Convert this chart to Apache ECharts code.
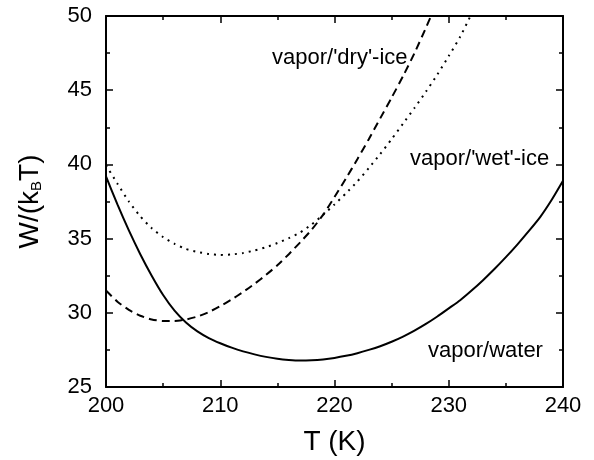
<!DOCTYPE html>
<html>
<head>
<meta charset="utf-8">
<script src="https://cdn.jsdelivr.net/npm/echarts@6/dist/echarts.min.js"></script>
<style>
html,body{margin:0;padding:0;background:#fff;}
#chart{width:594px;height:460px;}
</style>
</head>
<body>
<div id="chart"></div>
<script>
// Data
var waterT = [200, 201, 202, 203, 204, 205, 206, 207, 208, 209, 210, 211, 212, 213, 214, 215, 216, 217, 218, 219, 220, 221, 222, 223, 224, 225, 226, 227, 228, 229, 230, 231, 232, 233, 234, 235, 236, 237, 238, 239, 240];
var waterW = [39.2, 37.3, 35.55, 33.95, 32.5, 31.2, 30.15, 29.35, 28.75, 28.3, 27.95, 27.65, 27.4, 27.2, 27.03, 26.9, 26.82, 26.78, 26.8, 26.86, 26.96, 27.1, 27.28, 27.5, 27.75, 28.05, 28.4, 28.8, 29.25, 29.75, 30.3, 30.85, 31.5, 32.2, 32.95, 33.75, 34.6, 35.5, 36.45, 37.6, 38.9];

var dryT = [200, 201, 202, 203, 204, 205, 206, 207, 208, 209, 210, 211, 212, 213, 214, 215, 216, 217, 218, 219, 220, 221, 222, 223, 224, 225, 226, 227, 228, 228.45];
var dryW = [31.5, 30.75, 30.2, 29.8, 29.55, 29.45, 29.45, 29.55, 29.75, 30.05, 30.45, 30.9, 31.4, 31.95, 32.55, 33.2, 33.95, 34.75, 35.6, 36.6, 37.8, 39.05, 40.35, 41.7, 43.1, 44.5, 45.95, 47.5, 49.2, 50];

var wetT = [200, 201, 202, 203, 204, 205, 206, 207, 208, 209, 210, 211, 212, 213, 214, 215, 216, 217, 218, 219, 220, 221, 222, 223, 224, 225, 226, 227, 228, 229, 230, 231, 231.9];
var wetW = [39.95, 38.7, 37.5, 36.5, 35.7, 35.1, 34.65, 34.3, 34.1, 33.97, 33.9, 33.93, 34.03, 34.2, 34.42, 34.7, 35.03, 35.42, 35.95, 36.6, 37.3, 38.05, 38.85, 39.75, 40.7, 41.7, 42.75, 43.8, 44.9, 46.05, 47.3, 48.6, 50];

var xMin = 200, xMax = 240, xStep = 10;
var yMin = 25, yMax = 50, yStep = 5;

var seriesNames = ["vapor/water", "vapor/'dry'-ice", "vapor/'wet'-ice"];

function pairs(xs, ys) { return xs.map(function (x, i) { return [x, ys[i]]; }); }

var FONT = 'Liberation Sans, Arial, sans-serif';
var chart = echarts.init(document.getElementById('chart'), null, {renderer: 'canvas'});

function xAxisCfg(pos, labels) {
  return {
    type: 'value', position: pos, min: xMin, max: xMax, interval: xStep,
    axisLine: {show: true, onZero: false, lineStyle: {color: '#000', width: 2}},
    axisTick: {show: true, inside: true, length: 7, lineStyle: {color: '#000', width: 1.5}},
    minorTick: {show: true, splitNumber: 2, length: 4, lineStyle: {color: '#000', width: 1.5}},
    splitLine: {show: false},
    axisLabel: {show: labels, fontSize: 22, color: '#000', fontFamily: FONT, margin: 8},
    name: labels ? 'T (K)' : '',
    nameLocation: 'middle', nameGap: 41,
    nameTextStyle: {fontSize: 28, color: '#000', fontFamily: FONT}
  };
}
function yAxisCfg(pos, labels) {
  return {
    type: 'value', position: pos, min: yMin, max: yMax, interval: yStep,
    axisLine: {show: true, onZero: false, lineStyle: {color: '#000', width: 2}},
    axisTick: {show: true, inside: true, length: 7, lineStyle: {color: '#000', width: 1.5}},
    minorTick: {show: true, splitNumber: 2, length: 4, lineStyle: {color: '#000', width: 1.5}},
    splitLine: {show: false},
    axisLabel: {show: labels, fontSize: 22, color: '#000', fontFamily: FONT, margin: 14},
    name: labels ? 'W/(k{b|B}T)' : '',
    nameLocation: 'middle', nameGap: 62,
    nameTextStyle: {
      fontSize: 28, color: '#000', fontFamily: FONT,
      rich: {
        b: {fontSize: 15, lineHeight: 15, fontFamily: FONT, color: '#000', verticalAlign: 'bottom', padding: [30, 0, 0, 0]}
      }
    }
  };
}

var lineBase = {type: 'line', showSymbol: false, smooth: 0.2, xAxisIndex: 0, yAxisIndex: 0, animation: false, clip: true};

chart.setOption({
  animation: false,
  backgroundColor: '#fff',
  grid: {left: 106, right: 31, top: 16, bottom: 73, containLabel: false, outerBoundsMode: 'none'},
  xAxis: [xAxisCfg('bottom', true), xAxisCfg('top', false)],
  yAxis: [yAxisCfg('left', true), yAxisCfg('right', false)],
  series: [
    Object.assign({}, lineBase, {name: seriesNames[0], data: pairs(waterT, waterW), lineStyle: {color: '#000', width: 2, type: 'solid'}}),
    Object.assign({}, lineBase, {name: seriesNames[1], data: pairs(dryT, dryW), lineStyle: {color: '#000', width: 2, type: [8, 5]}}),
    Object.assign({}, lineBase, {name: seriesNames[2], data: pairs(wetT, wetW), lineStyle: {color: '#000', width: 2, type: [2, 5]}})
  ],
  graphic: [
    {type: 'text', left: 272, top: 46.5, style: {text: seriesNames[1], font: '22px ' + FONT, fill: '#000', verticalAlign: 'middle'}},
    {type: 'text', left: 410, top: 148, style: {text: seriesNames[2], font: '22px ' + FONT, fill: '#000', verticalAlign: 'middle'}},
    {type: 'text', left: 428, top: 340, style: {text: seriesNames[0], font: '22px ' + FONT, fill: '#000', verticalAlign: 'middle'}}
  ]
});
</script>
</body>
</html>
